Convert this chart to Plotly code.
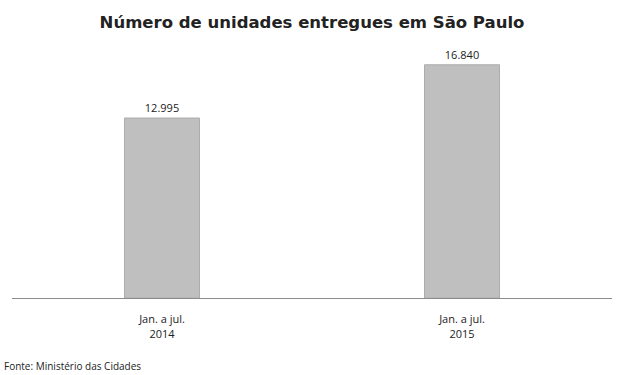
import plotly.graph_objects as go

categories = ["Jan. a jul.<br>2014", "Jan. a jul.<br>2015"]
values = [12995, 16840]
value_labels = ["12.995", "16.840"]

fig = go.Figure()
fig.add_trace(go.Bar(
    x=categories, y=values, text=value_labels, textposition="outside",
    textfont=dict(family="Open Sans", size=11, color="#222"),
    marker=dict(color="#bfbfbf", line=dict(color="#acacac", width=1)),
    width=0.25, cliponaxis=False, hoverinfo="skip",
))
fig.update_layout(
    width=624, height=375,
    margin=dict(l=12, r=12, t=40, b=77),
    paper_bgcolor="white", plot_bgcolor="white",
    showlegend=False,
    title=dict(text="<b>Número de unidades entregues em São Paulo</b>",
               x=0.5, xanchor="center", y=0.94, yanchor="middle",
               font=dict(family="DejaVu Sans", size=16.5, color="#222")),
    xaxis=dict(showline=True, linecolor="#8c8c8c", linewidth=1, ticks="",
               tickfont=dict(family="Open Sans", size=11, color="#222"),
               ticklabelstandoff=11,
               range=[-0.5, 1.5]),
    yaxis=dict(visible=False, range=[0, 18628]),
    annotations=[dict(text="Fonte: Ministério das Cidades", x=0, xref="paper",
                      xshift=-10, y=-0.265, yref="paper", xanchor="left",
                      yanchor="middle", showarrow=False,
                      font=dict(family="Open Sans", size=10, color="#222"))],
)
fig.write_html("out.html", config={"displayModeBar": False},
               post_script="document.body.style.margin='0';")
